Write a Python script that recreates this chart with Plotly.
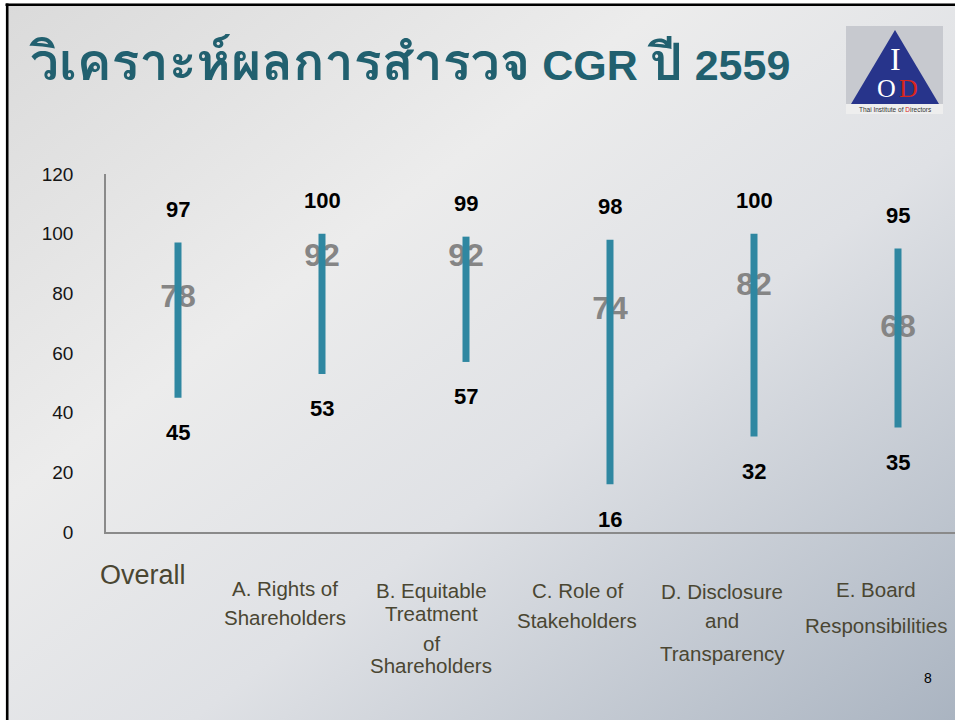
import base64
import plotly.graph_objects as go

# ---------------- data ----------------
categories = ["Overall", "A", "B", "C", "D", "E"]
label_lines = [
    ["Overall"],
    ["A. Rights of", "Shareholders"],
    ["B. Equitable", "Treatment", "of", "Shareholders"],
    ["C. Role of", "Stakeholders"],
    ["D. Disclosure", "and", "Transparency"],
    ["E. Board", "Responsibilities"],
]
high_vals = [97, 100, 99, 98, 100, 95]
low_vals = [45, 53, 57, 16, 32, 35]
avg_vals = [78, 92, 92, 74, 82, 68]
y_ticks = [0, 20, 40, 60, 80, 100, 120]
title_thai = "วิเคราะห์ผลการสำรวจ"
title_latin = "CGR"
title_thai2 = "ปี"
title_year = "2559"
page_no = "8"

# ---------------- layout geometry ----------------
W, H = 955, 720
ML, MR, MT, MB = 106, 0, 174, 188
PW, PH = W - ML - MR, H - MT - MB


def px(x):
    return (x - ML) / PW


def py(y):
    return (H - MB - y) / PH


x_idx = list(range(len(categories)))

fig = go.Figure()

# average labels (drawn under the bars)
fig.add_trace(go.Scatter(
    x=x_idx, y=avg_vals, mode="text", text=[str(v) for v in avg_vals],
    textposition="middle center",
    textfont=dict(family="Arial, Liberation Sans, sans-serif", size=32, color="#858585", weight="bold"),
    hoverinfo="skip", showlegend=False, cliponaxis=False,
))

# high-low bars
seg_x, seg_y = [], []
for i, (lo, hi) in enumerate(zip(low_vals, high_vals)):
    seg_x += [i, i, None]
    seg_y += [lo, hi, None]
fig.add_trace(go.Scatter(
    x=seg_x, y=seg_y, mode="lines",
    line=dict(color="#2f87a1", width=7),
    hoverinfo="skip", showlegend=False,
))

annotations = []
font_num = dict(family="Arial, Liberation Sans, sans-serif", size=22, color="#000000", weight="bold")
for i, (lo, hi) in enumerate(zip(low_vals, high_vals)):
    annotations.append(dict(x=i, y=hi, xref="x", yref="y", text=str(hi), showarrow=False,
                            yshift=33, font=font_num, xanchor="center", yanchor="middle"))
    annotations.append(dict(x=i, y=lo, xref="x", yref="y", text=str(lo), showarrow=False,
                            yshift=-35, font=font_num, xanchor="center", yanchor="middle"))

# category labels (separate text boxes under the axis)
line_ypix = [[575], [588, 617], [590, 613, 643, 665], [590, 620], [591, 620, 653], [589, 625]]
xshifts = [-35, -37, -35, -33, -32, -22]
for i, lines in enumerate(label_lines):
    size = 27 if i == 0 else 20.5
    for txt, ypx in zip(lines, line_ypix[i]):
        annotations.append(dict(x=i, y=py(ypx), xref="x", yref="paper", text=txt, showarrow=False,
                                xshift=xshifts[i], xanchor="center", yanchor="middle",
                                font=dict(family="Arial, Liberation Sans, sans-serif", size=size, color="#4a4632")))

# title
thai_span = "<span style='font-size:52px'>{}</span>"
title_html = ("<b>" + thai_span.format(title_thai) + " " + title_latin + " "
              + thai_span.format(title_thai2) + " " + title_year + "</b>")
annotations.append(dict(x=px(27), y=py(62), xref="paper", yref="paper", text=title_html,
                        showarrow=False, xanchor="left", yanchor="middle",
                        font=dict(family="Arial, 'Liberation Sans', Tahoma, Loma, Garuda, 'Noto Sans Thai Looped', 'Noto Sans Thai', sans-serif",
                                  size=43, color="#21606f")))
# page number
annotations.append(dict(x=px(928), y=py(678), xref="paper", yref="paper", text=page_no, showarrow=False,
                        xanchor="center", yanchor="middle",
                        font=dict(family="Arial, Liberation Sans, sans-serif", size=14, color="#000000")))

# logo text
serif = "Times New Roman, Liberation Serif, serif"
annotations.append(dict(x=px(895), y=py(59), xref="paper", yref="paper", text="I", showarrow=False,
                        xanchor="center", yanchor="middle", font=dict(family=serif, size=32, color="#ffffff")))
annotations.append(dict(x=px(886), y=py(88), xref="paper", yref="paper", text="O", showarrow=False,
                        xanchor="center", yanchor="middle", font=dict(family=serif, size=26, color="#ffffff")))
annotations.append(dict(x=px(908), y=py(88), xref="paper", yref="paper", text="D", showarrow=False,
                        xanchor="center", yanchor="middle", font=dict(family=serif, size=26, color="#d8261d")))
annotations.append(dict(x=px(895), y=py(109.5), xref="paper", yref="paper",
                        text="Thai Institute of <span style='color:#d8261d'>D</span>irectors", showarrow=False,
                        xanchor="center", yanchor="middle",
                        font=dict(family="Arial, Liberation Sans, sans-serif", size=6.5, color="#333333")))

shapes = [
    # logo box and triangle
    dict(type="rect", xref="paper", yref="paper", x0=px(846), x1=px(943), y0=py(104), y1=py(26),
         fillcolor="#c7c9cf", line=dict(width=0), layer="above"),
    dict(type="rect", xref="paper", yref="paper", x0=px(846), x1=px(943), y0=py(114), y1=py(104),
         fillcolor="#eeeeee", line=dict(width=0), layer="above"),
    dict(type="path", xref="paper", yref="paper",
         path=f"M {px(895)} {py(30)} L {px(851)} {py(104)} L {px(939)} {py(104)} Z",
         fillcolor="#27348b", line=dict(width=0), layer="above"),
    # white outer strip + slide frame
    dict(type="rect", xref="paper", yref="paper", x0=px(-5), x1=px(6), y0=py(-5), y1=py(725),
         fillcolor="#ffffff", line=dict(width=0), layer="above"),
    dict(type="rect", xref="paper", yref="paper", x0=px(-5), x1=px(960), y0=py(-5), y1=py(3.5),
         fillcolor="#ffffff", line=dict(width=0), layer="above"),
    dict(type="line", xref="paper", yref="paper", x0=px(5.5), x1=px(960), y0=py(4.8), y1=py(4.8),
         line=dict(color="#000000", width=2.6), layer="above"),
    dict(type="line", xref="paper", yref="paper", x0=px(7.2), x1=px(7.2), y0=py(3.5), y1=py(725),
         line=dict(color="#000000", width=2.6), layer="above"),
]

# gradient background as svg image
svg = f"""<svg xmlns='http://www.w3.org/2000/svg' width='{W}' height='{H}'>
<defs><linearGradient id='g' x1='0' y1='0' x2='1' y2='1'>
<stop offset='0' stop-color='#dadada'/>
<stop offset='0.35' stop-color='#ececec'/>
<stop offset='0.6' stop-color='#dfe1e5'/>
<stop offset='1' stop-color='#aab4c1'/>
</linearGradient></defs>
<rect width='{W}' height='{H}' fill='url(#g)'/></svg>"""
src = "data:image/svg+xml;base64," + base64.b64encode(svg.encode()).decode()

fig.update_layout(
    width=W, height=H,
    margin=dict(l=ML, r=MR, t=MT, b=MB, pad=0),
    paper_bgcolor="#e6e6e6", plot_bgcolor="rgba(0,0,0,0)",
    showlegend=False,
    annotations=annotations,
    shapes=shapes,
    images=[dict(source=src, xref="paper", yref="paper", x=px(0), y=py(0),
                 sizex=W / PW, sizey=H / PH, xanchor="left", yanchor="top",
                 sizing="stretch", layer="below")],
    xaxis=dict(range=[-0.5, (W - 178) / 144], showgrid=False, zeroline=False,
               showticklabels=False, showline=True, linecolor="#8a8a8a", linewidth=2,
               ticks="", fixedrange=True),
    yaxis=dict(range=[0, 120], tickvals=y_ticks, showgrid=False, zeroline=False,
               showline=True, linecolor="#8a8a8a", linewidth=1.5, ticks="",
               ticklabelstandoff=27,
               tickfont=dict(family="Arial, Liberation Sans, sans-serif", size=19, color="#151515"),
               fixedrange=True),
)

fig.write_html(
    "out.html",
    config={"displayModeBar": False},
    post_script="document.body.style.margin='0';document.body.style.overflow='hidden';",
)
